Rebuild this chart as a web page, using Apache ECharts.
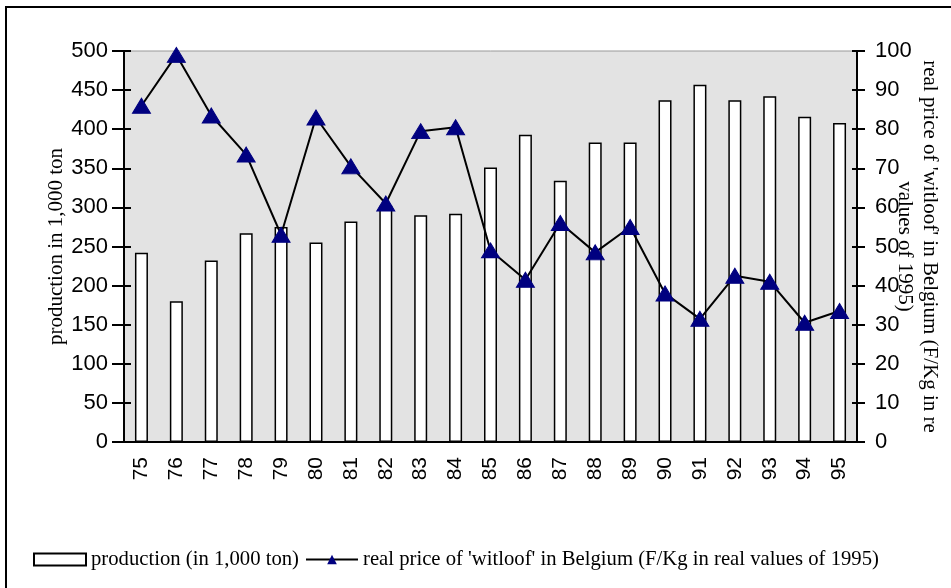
<!DOCTYPE html>
<html>
<head>
<meta charset="utf-8">
<title>witloof</title>
<script src="https://cdn.jsdelivr.net/npm/echarts@6/dist/echarts.min.js"></script>
<style>
  html, body { margin: 0; padding: 0; background: #fff; }
  #chart { width: 951px; height: 588px; }
</style>
</head>
<body>
<div id="chart"></div>
<script>
// 年份
const years = ['75', '76', '77', '78', '79', '80', '81', '82', '83', '84', '85',
  '86', '87', '88', '89', '90', '91', '92', '93', '94', '95']
// 产量 (1,000 ton)
const production = [242, 180, 232, 267, 275, 255, 282, 302, 290, 292, 351,
  393, 334, 383, 383, 437, 457, 437, 442, 416, 408]
// 实际价格 (F/Kg)
const price = [86, 99, 83.5, 73.5, 53, 83, 70.5, 61, 79.5, 80.5, 49,
  41.5, 56, 48.5, 55, 38, 31.5, 42.5, 41, 30.5, 33.5]

const prodName = 'production (in 1,000 ton)'
const priceName = "real price of 'witloof' in Belgium (F/Kg in real values of 1995)"

const sans = 'Liberation Sans'
const serif = 'Liberation Serif'

const chart = echarts.init(document.getElementById('chart'), null, { renderer: 'canvas' })

const tickLabel = { color: '#000', fontFamily: sans, fontSize: 22 }
const blackLine = { color: '#000', width: 2 }

chart.setOption({
  animation: false,
  // 外框
  graphic: [{
    type: 'rect',
    shape: { x: 6, y: 7, width: 980, height: 620 },
    style: { fill: 'none', stroke: '#000', lineWidth: 2 },
    silent: true
  }],
  grid: {
    left: 124,
    right: 94,
    top: 51,
    bottom: 146,
    outerBoundsMode: 'none',
    containLabel: false,
    show: true,
    backgroundColor: '#e3e3e3',
    borderColor: '#999',
    borderWidth: 1
  },
  legend: {
    left: 28,
    top: 544,
    itemWidth: 52,
    itemHeight: 12,
    itemGap: 6,
    textStyle: { color: '#000', fontFamily: serif, fontSize: 20.7 },
    data: [
      { name: prodName, icon: 'rect' },
      { name: priceName }
    ]
  },
  // 十字刻度：外侧一条轴，内侧再叠一条
  xAxis: [{
    type: 'category',
    data: years,
    axisLine: { lineStyle: blackLine },
    axisTick: { length: 10, lineStyle: blackLine },
    axisLabel: { rotate: 90, margin: 15, color: '#000', fontFamily: sans, fontSize: 21 }
  }, {
    type: 'category',
    data: years,
    position: 'bottom',
    axisLine: { show: false },
    axisTick: { inside: true, length: 6, lineStyle: blackLine },
    axisLabel: { show: false }
  }],
  yAxis: [{
    type: 'value',
    min: 0,
    max: 500,
    interval: 50,
    name: 'production in 1,000 ton',
    nameLocation: 'middle',
    nameGap: 57,
    nameMoveOverlap: false,
    nameTextStyle: { color: '#000', fontFamily: serif, fontSize: 21 },
    splitLine: { show: false },
    axisLine: { show: true, lineStyle: blackLine },
    axisTick: { show: true, length: 12, lineStyle: blackLine },
    axisLabel: Object.assign({ margin: 16 }, tickLabel)
  }, {
    type: 'value',
    position: 'right',
    min: 0,
    max: 100,
    interval: 10,
    name: "real price of 'witloof' in Belgium (F/Kg in re\nvalues of 1995)",
    nameLocation: 'middle',
    nameGap: 35,
    nameRotate: -90,
    nameMoveOverlap: false,
    nameTextStyle: { color: '#000', fontFamily: serif, fontSize: 21, lineHeight: 25 },
    splitLine: { show: false },
    axisLine: { show: true, lineStyle: blackLine },
    axisTick: { show: true, length: 8, lineStyle: blackLine },
    axisLabel: Object.assign({ margin: 18 }, tickLabel)
  }, {
    // 左轴内侧刻度
    type: 'value',
    position: 'left',
    min: 0,
    max: 500,
    interval: 50,
    splitLine: { show: false },
    axisLine: { show: false },
    axisTick: { show: true, inside: true, length: 7, lineStyle: blackLine },
    axisLabel: { show: false }
  }, {
    // 右轴内侧刻度
    type: 'value',
    position: 'right',
    min: 0,
    max: 100,
    interval: 10,
    splitLine: { show: false },
    axisLine: { show: false },
    axisTick: { show: true, inside: true, length: 5, lineStyle: blackLine },
    axisLabel: { show: false }
  }],
  series: [{
    name: prodName,
    type: 'bar',
    yAxisIndex: 0,
    data: production,
    barWidth: 13,
    itemStyle: { color: '#fff', borderColor: '#000', borderWidth: 1.5 }
  }, {
    name: priceName,
    type: 'line',
    yAxisIndex: 1,
    data: price,
    symbol: 'triangle',
    symbolSize: [18, 15],
    lineStyle: { color: '#000', width: 2 },
    itemStyle: { color: '#000080', borderColor: '#000080' }
  }]
})
</script>
</body>
</html>
